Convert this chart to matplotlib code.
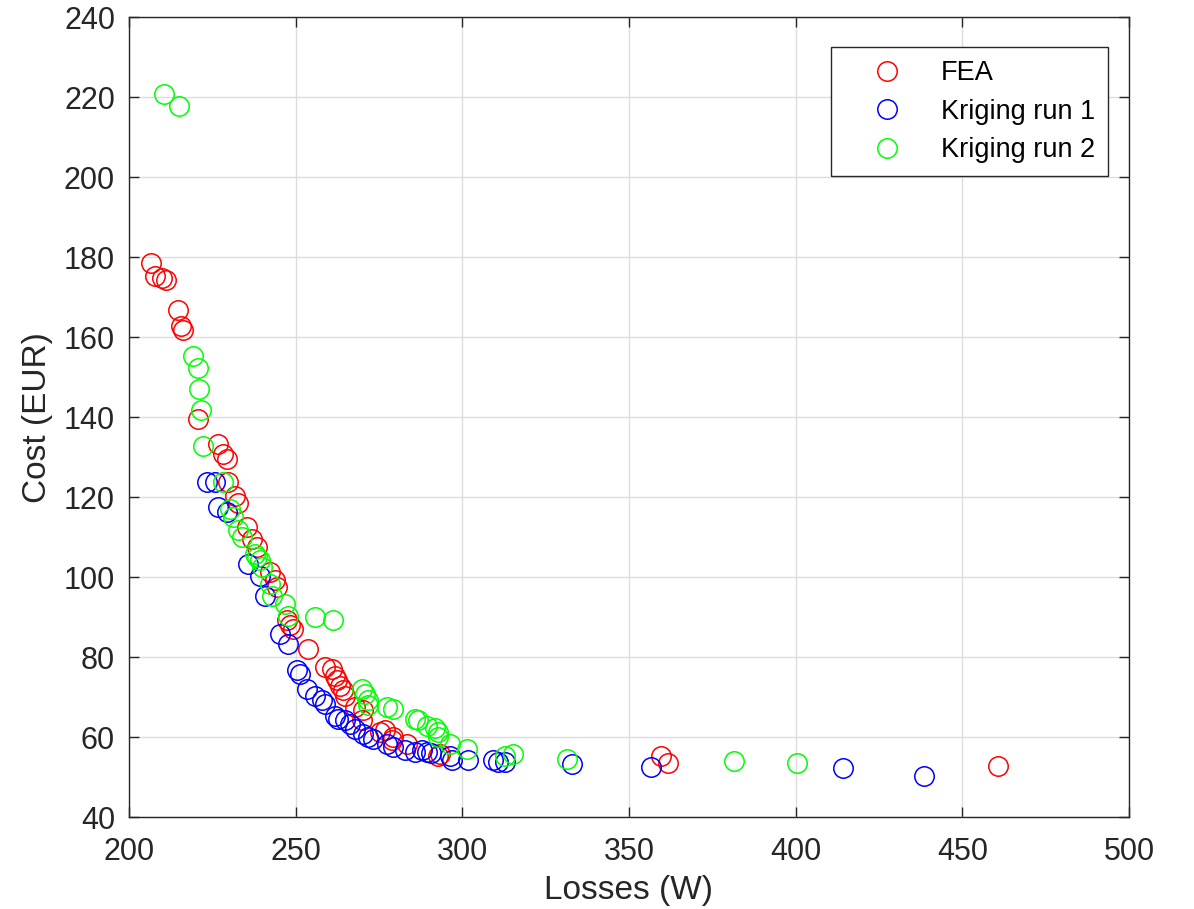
import numpy as np
import matplotlib
matplotlib.use('Agg')
import matplotlib.pyplot as plt

plt.rcParams['font.family'] = ['Liberation Sans', 'DejaVu Sans']

# FEA results (losses W, cost EUR)
fea_loss = [206.5, 207.8, 209.8, 211.1, 214.8, 215.5, 216.3, 220.6, 226.8, 228.3,
            229.3, 229.8, 231.8, 232.8, 235.3, 236.8, 238.3, 242.3, 243.8, 244.3,
            247.3, 248.3, 249.3, 253.8, 258.8, 260.8, 261.8, 262.3, 263.3, 264.3,
            264.8, 267.8, 270.3, 269.8, 275.3, 276.8, 278.8, 279.3, 283.3, 292.8,
            293.3, 359.6, 361.6, 460.8]
fea_cost = [178.5, 175.3, 174.9, 174.3, 166.7, 162.7, 161.7, 139.6, 133.3, 130.8,
            129.6, 123.8, 120.3, 118.6, 112.5, 109.6, 107.5, 101.3, 99.2, 97.5,
            89.2, 88.0, 87.1, 82.1, 77.5, 77.1, 75.4, 74.2, 72.9, 71.7,
            70.4, 67.6, 66.7, 64.2, 61.3, 61.7, 59.2, 60.0, 58.3, 55.4,
            55.8, 55.2, 53.6, 52.7]

# Kriging run 1
kr1_loss = [223.5, 225.8, 226.8, 229.3, 235.8, 239.3, 240.8, 245.3, 247.8, 250.3,
            251.3, 253.3, 255.8, 257.8, 258.8, 261.8, 262.8, 264.8, 266.3, 267.8,
            270.3, 271.8, 273.3, 277.3, 279.3, 282.8, 285.8, 287.8, 289.3, 290.5,
            296.3, 296.8, 301.8, 309.3, 310.8, 312.8, 333.0, 356.5, 414.1, 438.5]
kr1_cost = [123.8, 123.8, 117.5, 116.3, 103.3, 100.4, 95.4, 85.8, 83.3, 76.7,
            75.8, 72.1, 70.4, 69.2, 68.4, 65.4, 64.6, 64.2, 63.3, 62.1,
            60.8, 60.0, 59.6, 58.3, 57.5, 56.7, 56.3, 56.7, 56.3, 56.0,
            55.4, 54.2, 54.2, 54.2, 53.8, 53.8, 53.2, 52.5, 52.2, 50.4]

# Kriging run 2
kr2_loss = [210.5, 215.1, 219.3, 220.6, 221.0, 221.5, 222.3, 228.3, 230.3, 231.3,
            232.8, 233.8, 237.8, 238.3, 239.3, 239.8, 242.3, 242.8, 246.8, 247.8,
            255.8, 261.3, 269.8, 270.8, 271.8, 271.8, 277.3, 279.3, 285.8, 286.8,
            289.3, 291.8, 292.8, 292.8, 296.3, 301.5, 312.8, 315.3, 331.3, 381.6,
            400.5]
kr2_cost = [220.7, 217.7, 155.4, 152.3, 147.1, 141.7, 132.9, 123.8, 117.1, 115.0,
            111.7, 110.0, 105.8, 105.0, 104.2, 102.5, 98.3, 95.4, 93.4, 90.4,
            90.1, 89.2, 72.1, 70.8, 69.2, 68.0, 67.6, 67.1, 64.6, 64.2,
            62.8, 62.3, 61.3, 60.0, 58.3, 57.1, 55.4, 55.8, 54.6, 54.0,
            53.5]

fig = plt.figure(figsize=(11.94, 9.09), dpi=100)
ax = fig.add_axes([0.108, 0.101, 0.8375, 0.880])

ms = 14
ax.plot(fea_loss, fea_cost, 'o', mfc='none', mec='#ff0000', ms=ms, mew=1.1, label='FEA')
ax.plot(kr1_loss, kr1_cost, 'o', mfc='none', mec='#0000ff', ms=ms, mew=1.1, label='Kriging run 1')
ax.plot(kr2_loss, kr2_cost, 'o', mfc='none', mec='#00ff00', ms=ms, mew=1.1, label='Kriging run 2')

ax.set_xlim(200, 500)
ax.set_ylim(40, 240)
ax.set_xticks(np.arange(200, 501, 50))
ax.set_yticks(np.arange(40, 241, 20))
ax.grid(True, color='#dcdcdc', linewidth=1.0)
ax.set_axisbelow(True)
ax.tick_params(direction='in', top=True, right=True, length=7, width=1.0,
               labelsize=22, colors='#262626')
ax.tick_params(axis='x', pad=14)
ax.tick_params(axis='y', pad=10)
for sp in ax.spines.values():
    sp.set_color('#262626')
    sp.set_linewidth(1.0)

ax.set_xlabel('Losses (W)', fontsize=24, color='#262626', labelpad=6)
ax.set_ylabel('Cost (EUR)', fontsize=24, color='#262626', labelpad=8)

leg = ax.legend(loc='upper right', bbox_to_anchor=(0.979, 0.9625), borderaxespad=0,
                fontsize=19.5, fancybox=False, edgecolor='#262626', framealpha=1,
                handletextpad=0.43, borderpad=0.48, labelspacing=0.46, handlelength=3.14)
leg.get_frame().set_linewidth(1.0)

fig.savefig('out.png', dpi=100)
